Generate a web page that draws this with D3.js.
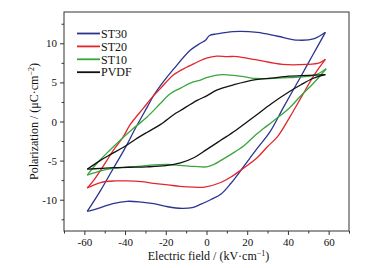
<!DOCTYPE html>
<html>
<head>
<meta charset="utf-8">
<script src="https://cdn.jsdelivr.net/npm/d3@7"></script>
<style>
  body { margin: 0; background: #fff; }
  text { font-family: "Liberation Serif", "Times New Roman", serif; fill: #111; }
</style>
</head>
<body>
<div id="d3"></div>
<script>
// series names and colours
const seriesNames = ["ST30", "ST20", "ST10", "PVDF"];
const seriesColors = ["#2b3590", "#e3262b", "#3aa63c", "#111111"];

// ST30 loop: upper branch (field falling) then lower branch (field rising)
const st30UpE = [58.4, 53, 45, 35, 25, 13, 5, 1.5, -0.5, -3, -8, -16, -22, -26, -29, -35, -40, -46, -52, -58.6];
const st30UpP = [11.4, 10.6, 10.4, 10.9, 11.4, 11.5, 11.2, 11.0, 10.4, 10.0, 9.1, 6.75, 4.8, 3.3, 1.9, -0.9, -3.4, -6.1, -8.8, -11.5];
const st30DnE = [-58.6, -52, -46, -39, -32, -26, -19, -12, -7, -3, 2, 7, 12, 17, 21, 25, 31, 38, 46, 52, 58.4];
const st30DnP = [-11.5, -11.0, -10.5, -10.2, -10.3, -10.5, -10.9, -11.1, -11.0, -10.6, -10.0, -9.3, -7.9, -6.2, -4.8, -3.4, -1.4, 1.9, 5.6, 8.4, 11.4];

// ST20 loop
const st20UpE = [58.4, 55.5, 49, 37.4, 24.2, 15, 10, 5, 0, -3, -6, -10, -16, -22.7, -26, -31, -37.5, -41, -45.8, -49, -55.6, -58.6];
const st20UpP = [7.95, 7.5, 7.3, 7.3, 7.9, 8.3, 8.3, 8.35, 8.1, 7.8, 7.4, 6.9, 6.0, 4.2, 3.3, 1.7, -0.4, -2.0, -3.7, -5.0, -7.6, -8.5];
const st20DnE = [-58.6, -52, -45, -39, -32, -26, -19, -13, -6, -1, 7, 12, 17, 25, 30, 35, 41, 47, 53, 58.4];
const st20DnP = [-8.5, -7.8, -7.6, -7.6, -7.7, -7.9, -8.1, -8.3, -8.4, -8.4, -7.8, -7.1, -6.2, -4.6, -3.2, -1.9, 0.6, 3.3, 6.0, 7.95];

// ST10 loop
const st10UpE = [58.8, 53.8, 47, 40.6, 31, 24.2, 19, 13.5, 8, 4.4, 0, -3, -8, -12.5, -17.8, -22.7, -29.3, -36, -42, -48, -54, -58.6];
const st10UpP = [6.75, 6.0, 5.7, 5.6, 5.5, 5.5, 5.7, 5.9, 6.0, 5.9, 5.6, 5.3, 4.9, 4.3, 3.55, 2.3, 0.55, -0.9, -2.3, -3.8, -5.4, -6.85];
const st10DnE = [-58.6, -52, -46, -39, -32, -26, -19, -13, -6, 0, 3.5, 6.9, 12, 18.4, 24.2, 27.5, 33, 40.6, 46, 52.2, 58.8];
const st10DnP = [-6.85, -6.3, -6.0, -5.85, -5.7, -5.55, -5.5, -5.6, -5.75, -5.8, -5.5, -5.0, -4.2, -3.1, -1.7, -1.0, 0.1, 1.7, 3.2, 4.8, 6.75];

// PVDF loop
const pvdfUpE = [58.4, 50, 40.6, 32, 24.2, 13.5, 5, 0.3, -4.6, -12.8, -16, -22.7, -29.3, -35, -40.8, -47, -52.3, -58.6];
const pvdfUpP = [6.0, 5.9, 5.8, 5.55, 5.35, 4.7, 4.0, 3.3, 2.7, 1.4, 0.9, -0.4, -1.4, -2.3, -3.3, -4.2, -5.0, -6.1];
const pvdfDnE = [-58.6, -52, -45.8, -38, -29.3, -20, -12.8, -6, 0, 7, 14.3, 24.2, 32, 40.6, 46.4, 52.2, 58.4];
const pvdfDnP = [-6.1, -6.0, -5.9, -5.85, -5.8, -5.65, -5.3, -4.6, -3.6, -2.4, -1.15, 0.77, 2.3, 3.8, 4.7, 5.5, 6.0];

// axis ticks
const xTicks = [-60, -40, -20, 0, 20, 40, 60];
const xMinor = [-70, -50, -30, -10, 10, 30, 50, 70];
const yTicks = [-10, -5, 0, 5, 10];
const yMinor = [-12.5, -7.5, -2.5, 2.5, 7.5, 12.5];

const loops = [
  [st30UpE, st30UpP, st30DnE, st30DnP],
  [st20UpE, st20UpP, st20DnE, st20DnP],
  [st10UpE, st10UpP, st10DnE, st10DnP],
  [pvdfUpE, pvdfUpP, pvdfDnE, pvdfDnP]
];

const margin = { top: 12, right: 30, bottom: 37, left: 64 },
  width = 379 - margin.left - margin.right,
  height = 268 - margin.top - margin.bottom;

const svg = d3
  .select("#d3")
  .append("svg")
  .attr("width", 379)
  .attr("height", 268)
  .append("g")
  .attr("transform", `translate(${margin.left},${margin.top})`);

const x = d3.scaleLinear().domain([-70, 70]).range([0, width]);
const y = d3.scaleLinear().domain([-14, 14]).range([height, 0]);

// plain hyphen for negative labels, like the original
const fmt = (d) => String(d);

// X axis
svg
  .append("g")
  .attr("transform", `translate(0, ${height})`)
  .call(d3.axisBottom(x).tickValues(xTicks).tickSize(4).tickPadding(3).tickFormat(fmt));
svg
  .append("g")
  .attr("transform", `translate(0, ${height})`)
  .call(d3.axisBottom(x).tickValues(xMinor).tickSize(2.5).tickFormat(""));

// Y axis
svg
  .append("g")
  .call(d3.axisLeft(y).tickValues(yTicks).tickSize(4).tickPadding(3).tickFormat(fmt));
svg
  .append("g")
  .call(d3.axisLeft(y).tickValues(yMinor).tickSize(2.5).tickFormat(""));

svg.selectAll(".domain").remove();
svg.selectAll(".tick line").attr("stroke", "#333");
svg.selectAll(".tick text")
  .attr("font-family", "Liberation Serif, serif")
  .style("font-size", "11px")
  .attr("fill", "#111");

// frame
svg
  .append("rect")
  .attr("x", 0)
  .attr("y", 0)
  .attr("width", width)
  .attr("height", height)
  .attr("fill", "none")
  .attr("stroke", "#333")
  .attr("stroke-width", 1);

// loops
const line = d3
  .line()
  .x((d) => x(d[0]))
  .y((d) => y(d[1]))
  .curve(d3.curveCatmullRom.alpha(0.5));

loops.forEach((lp, i) => {
  const up = lp[0].map((e, j) => [e, lp[1][j]]);
  const dn = lp[2].map((e, j) => [e, lp[3][j]]);
  [up, dn].forEach((branch) => {
    svg
      .append("path")
      .datum(branch)
      .attr("fill", "none")
      .attr("stroke", seriesColors[i])
      .attr("stroke-width", 1.3)
      .attr("stroke-linejoin", "round")
      .attr("d", line);
  });
});

// legend
const legend = svg
  .append("g")
  .selectAll("g")
  .data(seriesNames)
  .join("g")
  .attr("transform", (d, i) => `translate(13, ${21.5 + i * 12.9})`);
legend
  .append("line")
  .attr("x1", 0)
  .attr("x2", 23)
  .attr("stroke", (d, i) => seriesColors[i])
  .attr("stroke-width", 1.8);
legend
  .append("text")
  .attr("x", 24)
  .attr("dy", "0.35em")
  .style("font-size", "12px")
  .text((d) => d);

// X axis label
const xl = svg
  .append("text")
  .attr("text-anchor", "middle")
  .attr("x", width / 2 + 2)
  .attr("y", height + 29)
  .style("font-size", "12px");
xl.append("tspan").text("Electric field / (kV·cm");
xl.append("tspan").attr("dy", -4).style("font-size", "8px").text("−1");
xl.append("tspan").attr("dy", 4).text(")");

// Y axis label
const yl = svg
  .append("text")
  .attr("text-anchor", "middle")
  .attr("transform", `translate(${-26}, ${height / 2}) rotate(-90)`)
  .style("font-size", "12px");
yl.append("tspan").text("Polarization / (μC·cm");
yl.append("tspan").attr("dy", -4).style("font-size", "8px").text("−2");
yl.append("tspan").attr("dy", 4).text(")");
</script>
</body>
</html>
